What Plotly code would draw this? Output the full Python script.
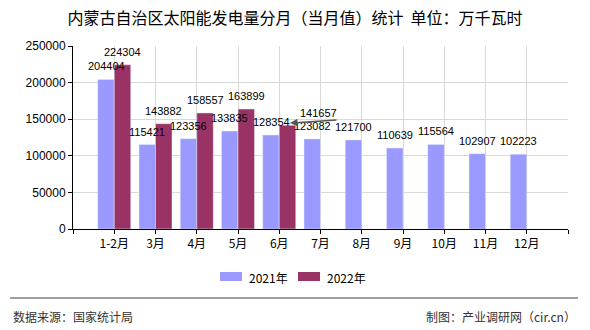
import plotly.graph_objects as go

categories = ["1-2月", "3月", "4月", "5月", "6月", "7月", "8月", "9月", "10月", "11月", "12月"]
series_names = ["2021年", "2022年"]
values_2021 = [204404, 115421, 123356, 133835, 128354, 123082, 121700, 110639, 115564, 102907, 102223]
values_2022 = [224304, 143882, 158557, 163899, 141657]
y_ticks = [0, 50000, 100000, 150000, 200000, 250000]
colors = ["#9999FF", "#993366"]

W, H = 590, 330
L, R, T, B = 73, 568, 46, 229

def px(x):
    return (x - L) / (R - L)

def py(y):
    return (B - y) / (B - T)

BARGAP = 0.2
half = (1 - BARGAP) / 4  # centre offset of each bar within its group

xs = list(range(len(categories)))
fig = go.Figure()
fig.add_trace(go.Bar(x=xs, y=values_2021, name=series_names[0], marker_color=colors[0],
                     offsetgroup="a", showlegend=False))
fig.add_trace(go.Bar(x=xs[:len(values_2022)], y=values_2022, name=series_names[1],
                     marker_color=colors[1], offsetgroup="b", showlegend=False))

# value labels drawn on top of all bars
lblfont = dict(size=11, color="#000", family="Liberation Sans, Arial")
for i, v in zip(xs, values_2021):
    fig.add_annotation(x=i - half, y=v, text=str(v), showarrow=False, yanchor="middle",
                       yshift=13, font=lblfont)
for i, v in zip(xs[:len(values_2022) - 1], values_2022[:-1]):
    fig.add_annotation(x=i + half, y=v, text=str(v), showarrow=False, yanchor="middle",
                       yshift=13, font=lblfont)

tickvals = list(range(-1, len(categories) + 1))
ticktext = [""] + categories + [""]

fig.update_layout(
    width=W, height=H, margin=dict(l=L, r=W - R, t=T, b=H - B),
    paper_bgcolor="white", plot_bgcolor="white",
    barmode="group", bargap=BARGAP, bargroupgap=0,
    font=dict(family="Noto Sans CJK SC, Liberation Sans", size=12, color="#000"),
    title=dict(text="内蒙古自治区太阳能发电量分月（当月值）统计  单位：万千瓦时",
               x=0.5, xref="container", xanchor="center", y=1 - 18 / H, yanchor="middle",
               font=dict(size=16, color="#000")),
    xaxis=dict(range=[-1, len(categories)], tickmode="array", tickvals=tickvals, ticktext=ticktext,
               showgrid=True, gridcolor="#d9d9d9", gridwidth=1,
               showline=True, linecolor="#000", linewidth=1,
               ticks="outside", ticklen=4, tickcolor="#000",
               tickfont=dict(size=12, family="Noto Sans CJK SC"), zeroline=False),
    yaxis=dict(range=[0, 250000], tickvals=y_ticks, tickformat="d", showgrid=True, gridcolor="#d9d9d9",
               showline=True, linecolor="#000", linewidth=1,
               ticks="outside", ticklen=4, tickcolor="#000",
               tickfont=dict(size=12, family="Liberation Sans, Arial"), zeroline=False),
)

# displaced label for 6月 2022
fig.add_annotation(x=px(318), y=py(113), xref="paper", yref="paper", text=str(values_2022[-1]),
                   showarrow=False, font=lblfont)
fig.add_annotation(x=px(290), y=py(123), xref="paper", yref="paper", text="",
                   ax=48, ay=-3, showarrow=True, arrowhead=2, arrowsize=1,
                   arrowwidth=1.5, arrowcolor="#555")

# legend
leg = [(220, 242, 247), (298, 320, 325)]
for (x0, x1, tx), name, c in zip(leg, series_names, colors):
    fig.add_shape(type="rect", xref="paper", yref="paper", x0=px(x0), x1=px(x1),
                  y0=py(281), y1=py(272), fillcolor=c, line_width=0)
    fig.add_annotation(x=px(tx), y=py(277), xref="paper", yref="paper", text=name, showarrow=False,
                       xanchor="left", yanchor="middle", font=dict(size=12, color="#000"))

# footer
fig.add_shape(type="line", xref="paper", yref="paper", x0=px(10), x1=px(578), y0=py(298), y1=py(298),
              line=dict(color="#808080", width=1.5))
fig.add_annotation(x=px(11), y=py(316), xref="paper", yref="paper", text="数据来源：国家统计局",
                   showarrow=False, xanchor="left", yanchor="middle", font=dict(size=12, color="#333"))
fig.add_annotation(x=px(578), y=py(316), xref="paper", yref="paper", text="制图：产业调研网（cir.cn）",
                   showarrow=False, xanchor="right", yanchor="middle", font=dict(size=12, color="#333"))

fig.write_html("out.html")
